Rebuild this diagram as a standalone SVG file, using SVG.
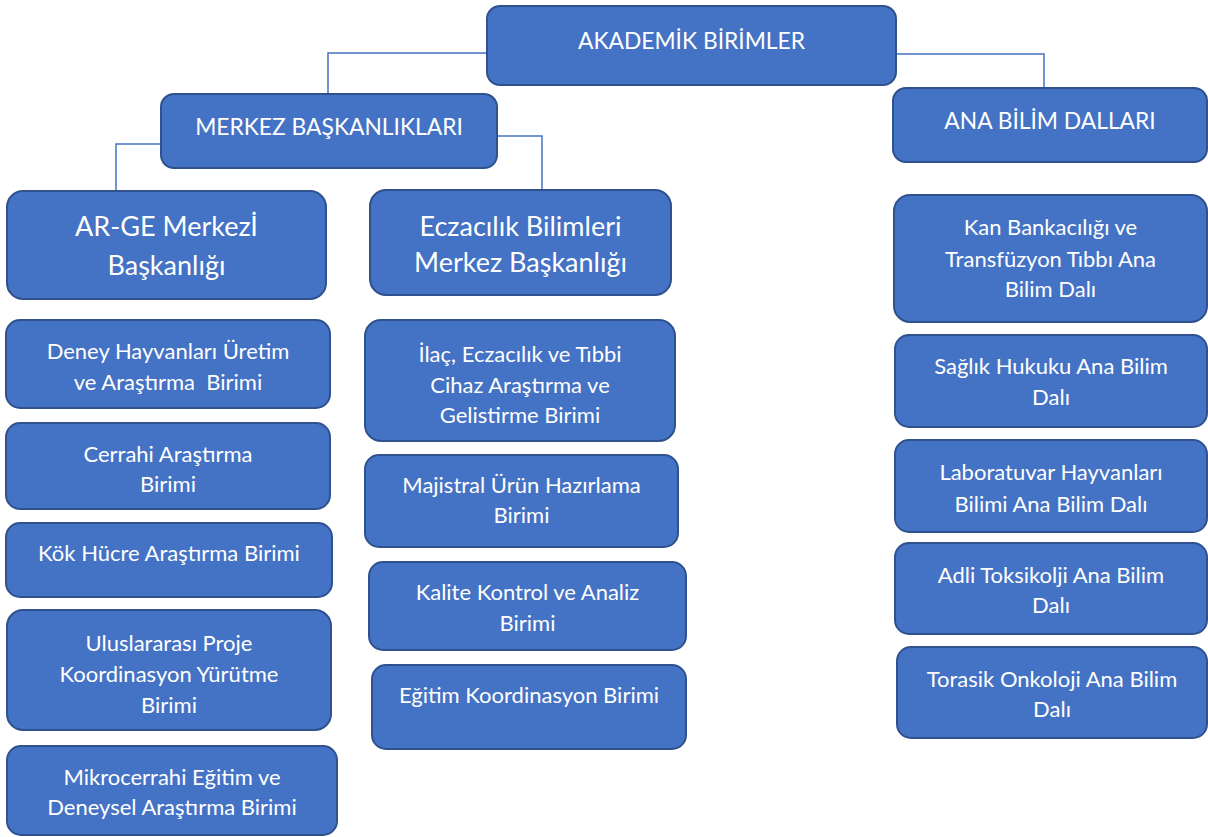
<svg xmlns="http://www.w3.org/2000/svg" width="1208" height="837" viewBox="0 0 1208 837">
<style>
.box{fill:#4472C4;stroke:#2F528F;stroke-width:2}
.t{fill:#FFFFFF;font-family:Lato,"Open Sans","Liberation Sans",sans-serif;text-anchor:middle}
.s{font-size:22px}
.m{font-size:22.8px}
.l{font-size:27px}
.c{fill:none;stroke:#4472C4;stroke-width:1.5}
</style>
<rect width="1208" height="837" fill="#FFFFFF"/>
<g id="connectors">
<polyline class="c" points="487,53 328,53 328,94"/>
<polyline class="c" points="896,54 1044,54 1044,88"/>
<polyline class="c" points="497,136 542,136 542,190"/>
<polyline class="c" points="161,144 116,144 116,191"/>
</g>
<g id="akademik">
<rect class="box" x="487" y="6" width="409" height="79" rx="13"/>
<text class="t m" x="691.5" y="49">AKADEMİK BİRİMLER</text>
</g>
<g id="merkez">
<rect class="box" x="161" y="94" width="336" height="74" rx="13"/>
<text class="t m" x="329" y="135">MERKEZ BAŞKANLIKLARI</text>
</g>
<g id="anabilim">
<rect class="box" x="893" y="88" width="314" height="74" rx="13"/>
<text class="t m" x="1050" y="129">ANA BİLİM DALLARI</text>
</g>
<g id="arge">
<rect class="box" x="7" y="191" width="319" height="108" rx="16"/>
<text class="t l" x="166.5" y="236">AR-GE Merkezİ</text>
<text class="t l" x="166.5" y="275">Başkanlığı</text>
</g>
<g id="deney">
<rect class="box" x="6" y="320" width="324" height="88" rx="14"/>
<text class="t s" x="168" y="359">Deney Hayvanları Üretim</text>
<text class="t s" x="168" y="390" xml:space="preserve">ve Araştırma  Birimi</text>
</g>
<g id="cerrahi">
<rect class="box" x="6" y="423" width="324" height="86" rx="14"/>
<text class="t s" x="168" y="462">Cerrahi Araştırma</text>
<text class="t s" x="168" y="492">Birimi</text>
</g>
<g id="kok">
<rect class="box" x="6" y="523" width="326" height="74" rx="14"/>
<text class="t s" x="169" y="561">Kök Hücre Araştırma Birimi</text>
</g>
<g id="uluslararasi">
<rect class="box" x="7" y="610" width="324" height="120" rx="16"/>
<text class="t s" x="169" y="651">Uluslararası Proje</text>
<text class="t s" x="169" y="682">Koordinasyon Yürütme</text>
<text class="t s" x="169" y="713">Birimi</text>
</g>
<g id="mikrocerrahi">
<rect class="box" x="7" y="746" width="330" height="89" rx="14"/>
<text class="t s" x="172" y="785">Mikrocerrahi Eğitim ve</text>
<text class="t s" x="172" y="815">Deneysel Araştırma Birimi</text>
</g>
<g id="eczacilik">
<rect class="box" x="370" y="190" width="301" height="105" rx="16"/>
<text class="t l" x="520.5" y="236">Eczacılık Bilimleri</text>
<text class="t l" x="520.5" y="272">Merkez Başkanlığı</text>
</g>
<g id="ilac">
<rect class="box" x="365" y="320" width="310" height="121" rx="16"/>
<text class="t s" x="520" y="362">İlaç, Eczacılık ve Tıbbi</text>
<text class="t s" x="520" y="393">Cihaz Araştırma ve</text>
<text class="t s" x="520" y="423">Gelistirme Birimi</text>
</g>
<g id="majistral">
<rect class="box" x="365" y="455" width="313" height="92" rx="14"/>
<text class="t s" x="521.5" y="493">Majistral Ürün Hazırlama</text>
<text class="t s" x="521.5" y="523">Birimi</text>
</g>
<g id="kalite">
<rect class="box" x="369" y="562" width="317" height="88" rx="14"/>
<text class="t s" x="527.5" y="600">Kalite Kontrol ve Analiz</text>
<text class="t s" x="527.5" y="631">Birimi</text>
</g>
<g id="egitim">
<rect class="box" x="372" y="665" width="314" height="84" rx="14"/>
<text class="t s" x="529" y="703">Eğitim Koordinasyon Birimi</text>
</g>
<g id="kan">
<rect class="box" x="894" y="195" width="313" height="127" rx="16"/>
<text class="t s" x="1050.5" y="235">Kan Bankacılığı ve</text>
<text class="t s" x="1050.5" y="267">Transfüzyon Tıbbı Ana</text>
<text class="t s" x="1050.5" y="297">Bilim Dalı</text>
</g>
<g id="saglik">
<rect class="box" x="895" y="335" width="312" height="92" rx="14"/>
<text class="t s" x="1051" y="374">Sağlık Hukuku Ana Bilim</text>
<text class="t s" x="1051" y="405">Dalı</text>
</g>
<g id="laboratuvar">
<rect class="box" x="895" y="440" width="312" height="92" rx="14"/>
<text class="t s" x="1051" y="480">Laboratuvar Hayvanları</text>
<text class="t s" x="1051" y="512">Bilimi Ana Bilim Dalı</text>
</g>
<g id="adli">
<rect class="box" x="895" y="543" width="312" height="91" rx="14"/>
<text class="t s" x="1051" y="583">Adli Toksikolji Ana Bilim</text>
<text class="t s" x="1051" y="613">Dalı</text>
</g>
<g id="torasik">
<rect class="box" x="897" y="647" width="310" height="91" rx="14"/>
<text class="t s" x="1052" y="687">Torasik Onkoloji Ana Bilim</text>
<text class="t s" x="1052" y="717">Dalı</text>
</g>
</svg>
